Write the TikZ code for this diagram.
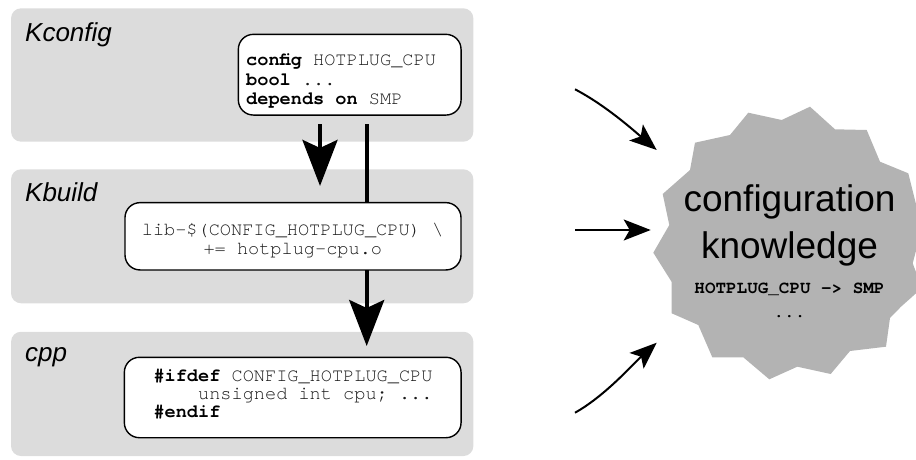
\documentclass[tikz,border=0pt]{standalone}
\usepackage{fontspec}
\setmainfont{Liberation Sans}
\setmonofont{TeX Gyre Cursor}
\usetikzlibrary{arrows.meta}
\pgfdeclarelayer{back}
\pgfdeclarelayer{mid}
\pgfsetlayers{back,mid,main}
\definecolor{panelgray}{HTML}{DCDCDC}
\definecolor{stargray}{HTML}{B3B3B3}
\definecolor{codegray}{HTML}{1A1A1A}
\newcommand\kwd[1]{{\bfseries\color{black}#1}}
\tikzset{
  panel/.style={fill=panelgray, draw=none, rounded corners=10pt, inner sep=0pt},
  codebox/.style={draw=black, line width=1.4pt, fill=white, rounded corners=15pt, inner sep=0pt},
  codeline/.style={inner sep=0pt, font=\fontsize{18.6}{19}\selectfont\ttfamily, text=codegray},
  layerlabel/.style={anchor=base west, inner sep=0pt, font=\fontsize{26}{30}\selectfont\itshape},
  bigtext/.style={anchor=base, inner sep=0pt, font=\fontsize{37}{44}\selectfont},
  startext/.style={anchor=base, inner sep=0pt, font=\fontsize{17.6}{19}\selectfont\ttfamily\bfseries},
  bigarrow/.style={line width=4pt, -{Stealth[length=46pt,width=35pt,inset=8pt]}},
  smallarrow/.style={line width=2pt, -{Stealth[length=27pt,width=21pt,inset=6pt]}}
}
\begin{document}
\begin{tikzpicture}[x=1pt,y=-1pt]
\useasboundingbox (0,0) rectangle (916,460);

\begin{pgfonlayer}{back}
  \node[panel, minimum width=462.3pt, minimum height=133.4pt] (p1) at (242.2,75) {};
  \node[panel, minimum width=462.3pt, minimum height=134pt] (p2) at (242.2,236.3) {};
  \node[panel, minimum width=462.3pt, minimum height=124.3pt] (p3) at (242.2,393.9) {};
  \fill[stargray] (810,106.7) -- (835,129.3) -- (866.7,130) -- (880,161.7) -- (908.3,173.3)
    -- (922,228) -- (912.7,263.3) -- (922,288) -- (901,306.7) -- (890,318) -- (886,346.7)
    -- (850,351) -- (830.7,374) -- (797.3,366.7) -- (769.3,379.3) -- (743.3,357.3)
    -- (712.3,357.3) -- (698.3,325) -- (671.7,313.3) -- (671.7,282) -- (653.3,252.7)
    -- (669.3,225) -- (662.7,194) -- (690,170) -- (695,142.7) -- (730,135)
    -- (748.3,112.7) -- (781.7,120) -- cycle;
\end{pgfonlayer}

\node[layerlabel] (lkconfig) at (25,41.7) {Kconfig};
\node[layerlabel] (lkbuild) at (25,201.7) {Kbuild};
\node[layerlabel] (lcpp) at (25,361.7) {cpp};

\node[codebox, minimum width=222.7pt, minimum height=80.7pt] (box1) at (349.7,74.7) {};
\node[codebox, minimum width=336pt, minimum height=67.3pt] (box2) at (293,236.3) {};
\node[codebox, minimum width=336.7pt, minimum height=80.4pt] (box3) at (292.7,397.5) {};

\node[codeline, anchor=base west] (k1) at (246,66) {\kwd{config} HOTPLUG\_CPU};
\node[codeline, anchor=base west] (k2) at (246,85.3) {\kwd{bool} ...};
\node[codeline, anchor=base west] (k3) at (246,104.5) {\kwd{depends on} SMP};

\node[codeline, anchor=base] (b1) at (292.5,235) {lib-\$(CONFIG\_HOTPLUG\_CPU) \textbackslash};
\node[codeline, anchor=base] (b2) at (292.8,254.3) {+= hotplug-cpu.o};

\node[codeline, anchor=base west] (c1) at (153.3,381.5) {\kwd{\#ifdef} CONFIG\_HOTPLUG\_CPU};
\node[codeline, anchor=base west] (c2) at (153.3,399.3) {\ \ \ \ unsigned int cpu; ...};
\node[codeline, anchor=base west] (c3) at (153.3,417.3) {\kwd{\#endif}};

\begin{pgfonlayer}{mid}
  \draw[bigarrow] ([xshift=-29.7pt,yshift=-8.3pt]box1.south) -- ([xshift=27pt,yshift=16pt]box2.north);
  \draw[bigarrow] ([xshift=17pt,yshift=-8.3pt]box1.south) -- ([xshift=74pt,yshift=10.6pt]box3.north);
\end{pgfonlayer}

\node[bigtext] (ck1) at (789.5,211.7) {configuration};
\node[bigtext] (ck2) at (789.5,258.3) {knowledge};
\node[startext] (ck3) at (789.5,293.3) {HOTPLUG\_CPU -> SMP};
\node[startext] (ck4) at (789.5,317) {...};

\coordinate (s1) at (575,89.3);
\coordinate (t1) at (656.7,150);
\coordinate (s2) at (575,230);
\coordinate (t2) at (650.7,230);
\coordinate (s3) at (575,412.7);
\coordinate (t3) at (656.7,342.7);
\draw[smallarrow] (s1) .. controls (605,105) and (632,129) .. (t1);
\draw[smallarrow] (s2) -- (t2);
\draw[smallarrow] (s3) .. controls (605,396) and (633,364) .. (t3);
\end{tikzpicture}
\end{document}
